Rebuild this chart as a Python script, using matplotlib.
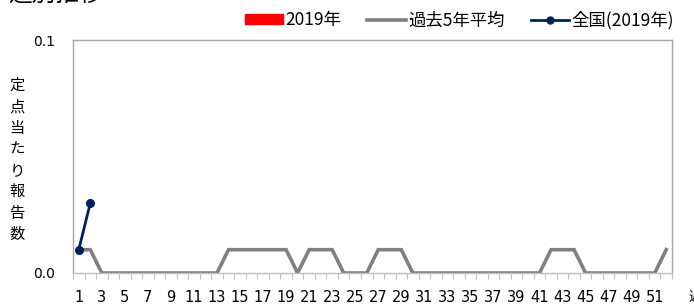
import matplotlib
matplotlib.use("Agg")
import matplotlib.pyplot as plt
import matplotlib.patches as mpatches
from matplotlib.lines import Line2D
import numpy as np

plt.rcParams['font.family'] = ['Noto Sans CJK JP', 'DejaVu Sans']

weeks = list(range(1, 53))
week_labels = [str(w) if w % 2 == 1 else "" for w in weeks]
local_2019 = [0.0] * 52
past5_avg = [0.01, 0.01, 0, 0, 0, 0, 0, 0, 0, 0, 0, 0, 0,
             0.01, 0.01, 0.01, 0.01, 0.01, 0.01, 0,
             0.01, 0.01, 0.01, 0, 0, 0,
             0.01, 0.01, 0.01, 0, 0, 0, 0, 0, 0, 0, 0, 0, 0, 0, 0,
             0.01, 0.01, 0.01, 0, 0, 0, 0, 0, 0, 0, 0.01]
national_weeks = [1, 2]
national_2019 = [0.01, 0.03]

fig = plt.figure(figsize=(6.94, 3.04), dpi=100)
ax = fig.add_axes([73/694, 1-273/304, (672-73)/694, (273-40)/304])

x = np.arange(1, 53)
ax.bar(x, local_2019, width=0.6, color='#ff0000', zorder=1)
ax.plot(x, past5_avg, color='#808080', lw=2.6, zorder=2, solid_joinstyle='miter')
ax.plot(national_weeks, national_2019, color='#002060', lw=2.0, marker='o', ms=5.5, zorder=3)

narrow = ['Liberation Sans Narrow', 'DejaVu Sans']
ax.set_xlim(0.5, 52.5)
ax.set_ylim(0, 0.1)
ax.set_yticks([0, 0.1])
ax.set_yticklabels(['0.0', '0.1'], fontsize=10, family=narrow)
ax.tick_params(axis='y', length=0, pad=13)

ax.set_xticks(x)
ax.set_xticklabels(week_labels, fontsize=10.5, family=narrow)
ax.tick_params(axis='x', length=0, pad=12)
ax.set_xticks(np.arange(0.5, 53, 1), minor=True)
ax.tick_params(axis='x', which='minor', length=4, color='#bfbfbf', width=0.8, direction='out')

for s in ['left', 'right', 'top']:
    ax.spines[s].set_color('#a6a6a6')
    ax.spines[s].set_linewidth(1.0)
ax.spines['bottom'].set_color('#bfbfbf')
ax.spines['bottom'].set_linewidth(1.0)

# y label stacked
fig.text(17/694, 1-160/304, "定\n点\n当\nた\nり\n報\n告\n数", ha='center', va='center',
         fontsize=11, linespacing=1.33)

# title (cut off at top)
fig.text(8/694, 1-1/304, "週別推移", ha='left', va='baseline', fontsize=17)
# x label (cut off at right)
fig.text(688/694, 1-297/304, "週", ha='left', va='center', fontsize=10)

handles = [mpatches.Patch(color='#ff0000'),
           Line2D([], [], color='#808080', lw=2.6),
           Line2D([], [], color='#002060', lw=2.0, marker='o', ms=5)]
labels = ['2019年', '過去5年平均', '全国(2019年)']
fig.legend(handles, labels, loc='center right', bbox_to_anchor=(674/694, 1-20/304),
           ncol=3, frameon=False, fontsize=12.5, handlelength=2.2, handleheight=0.55,
           handletextpad=0.15, columnspacing=1.5, borderaxespad=0, borderpad=0)

fig.savefig('out.png', dpi=100)
